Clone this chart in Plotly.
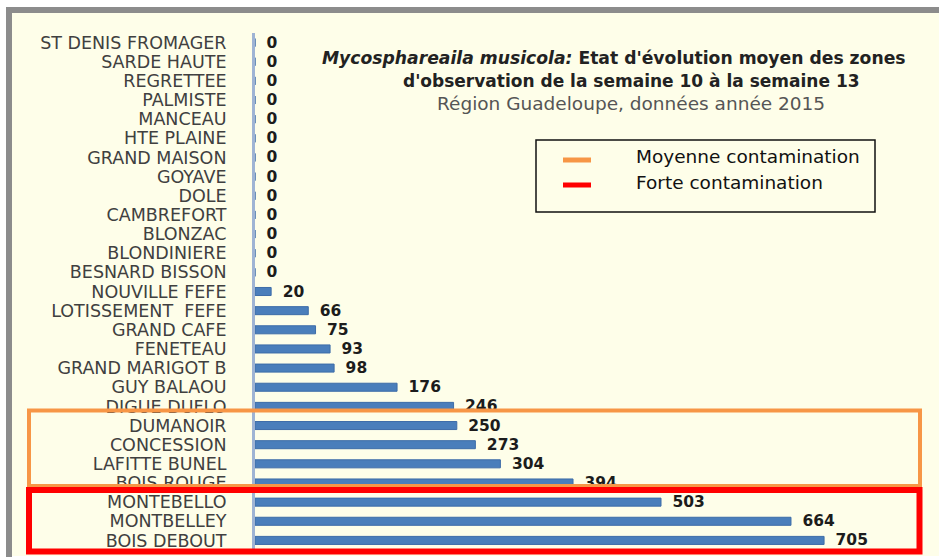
import plotly.graph_objects as go

# ---- data ----
stations = [
    "ST DENIS FROMAGER", "SARDE HAUTE", "REGRETTEE", "PALMISTE", "MANCEAU",
    "HTE PLAINE", "GRAND MAISON", "GOYAVE", "DOLE", "CAMBREFORT", "BLONZAC",
    "BLONDINIERE", "BESNARD BISSON", "NOUVILLE FEFE", "LOTISSEMENT  FEFE",
    "GRAND CAFE", "FENETEAU", "GRAND MARIGOT B", "GUY BALAOU", "DIGUE DUFLO",
    "DUMANOIR", "CONCESSION", "LAFITTE BUNEL", "BOIS ROUGE", "MONTEBELLO",
    "MONTBELLEY", "BOIS DEBOUT",
]
values = [0, 0, 0, 0, 0, 0, 0, 0, 0, 0, 0, 0, 0, 20, 66, 75, 93, 98, 176,
          246, 250, 273, 304, 394, 503, 664, 705]

title_line1_italic = "Mycosphareaila musicola:"
title_line1_rest = " Etat d'évolution moyen des zones"
title_line2 = "d'observation de la semaine 10 à la semaine 13"
title_line3 = "Région Guadeloupe, données année 2015"
legend_labels = ["Moyenne contamination", "Forte contamination"]
legend_colors = ["#f79646", "#ff0000"]

# ---- layout constants ----
W, H = 939, 560
ML, MR, MT, MB = 255, 10, 33, 10
PW, PH = W - ML - MR, H - MT - MB
CREAM = "#fefee9"
FONT = "'DejaVu Sans', sans-serif"


def px(x):
    return (x - ML) / PW


def py(y):
    return (H - MB - y) / PH


fig = go.Figure()
fig.add_trace(go.Bar(
    x=values, y=stations, orientation="h", width=0.42,
    marker=dict(color="#4a7ebb", line=dict(color="#3d6ca8", width=1)),
    text=["\u00a0\u2009" + str(v) for v in values], textposition="outside",
    constraintext="none",
    textfont=dict(family=FONT, size=15.5, color="#1c1c1c", weight="bold"),
    cliponaxis=False, showlegend=False,
))

shapes = []
# white outer frame and grey edges
shapes.append(dict(type="rect", xref="paper", yref="paper", x0=px(0), x1=px(W), y0=py(H), y1=py(556),
                   fillcolor="white", line=dict(width=0), layer="below"))
shapes.append(dict(type="rect", xref="paper", yref="paper", x0=px(0), x1=px(W), y0=py(7), y1=py(0),
                   fillcolor="white", line=dict(width=0), layer="below"))
shapes.append(dict(type="rect", xref="paper", yref="paper", x0=px(0), x1=px(6), y0=py(H), y1=py(0),
                   fillcolor="white", line=dict(width=0), layer="below"))
shapes.append(dict(type="rect", xref="paper", yref="paper", x0=px(6), x1=px(W), y0=py(13), y1=py(7),
                   fillcolor="#8c8c8c", line=dict(width=0), layer="below"))
shapes.append(dict(type="rect", xref="paper", yref="paper", x0=px(6), x1=px(12), y0=py(557), y1=py(7),
                   fillcolor="#8c8c8c", line=dict(width=0), layer="below"))

# highlight boxes
shapes.append(dict(type="rect", xref="paper", yref="paper", x0=px(29), x1=px(920), y0=py(486), y1=py(410.5),
                   line=dict(color=legend_colors[0], width=4), fillcolor="rgba(0,0,0,0)", layer="above"))
shapes.append(dict(type="rect", xref="paper", yref="paper", x0=px(29), x1=px(919.5), y0=py(551.5), y1=py(490),
                   line=dict(color=legend_colors[1], width=6), fillcolor="rgba(0,0,0,0)", layer="above"))

# legend box
shapes.append(dict(type="rect", xref="paper", yref="paper", x0=px(536), x1=px(875), y0=py(212), y1=py(140),
                   line=dict(color="#111111", width=1.5), fillcolor=CREAM, layer="above"))
legend_y = [160, 185]
for lab, col, ly in zip(legend_labels, legend_colors, legend_y):
    shapes.append(dict(type="line", xref="paper", yref="paper", x0=px(563), x1=px(591), y0=py(ly), y1=py(ly),
                       line=dict(color=col, width=5), layer="above"))

annotations = []
for lab, ly in zip(legend_labels, [156, 182]):
    annotations.append(dict(text=lab, xref="paper", yref="paper", x=px(634), y=py(ly), xanchor="left",
                            yanchor="middle", showarrow=False,
                            font=dict(family=FONT, size=18.5, color="#111111")))

annotations.append(dict(text=f"<b><i>{title_line1_italic}</i>{title_line1_rest}</b>", xref="paper", yref="paper",
                        x=px(614), y=py(58), xanchor="center", yanchor="middle", showarrow=False,
                        font=dict(family=FONT, size=17.2, color="#222222")))
annotations.append(dict(text=f"<b>{title_line2}</b>", xref="paper", yref="paper",
                        x=px(631), y=py(81), xanchor="center", yanchor="middle", showarrow=False,
                        font=dict(family=FONT, size=17, color="#222222")))
annotations.append(dict(text=title_line3, xref="paper", yref="paper",
                        x=px(631), y=py(104), xanchor="center", yanchor="middle", showarrow=False,
                        font=dict(family=FONT, size=18.5, color="#555555")))

fig.update_layout(
    width=W, height=H,
    margin=dict(l=ML, r=MR, t=MT, b=MB, pad=0),
    paper_bgcolor=CREAM, plot_bgcolor=CREAM,
    shapes=shapes, annotations=annotations,
    font=dict(family=FONT),
    xaxis=dict(range=[0, 835], visible=False, showgrid=False, zeroline=False, fixedrange=True),
    yaxis=dict(autorange="reversed", showgrid=False, zeroline=False,
               showline=True, linecolor="#9fb4d4", linewidth=3,
               ticks="", ticklabelstandoff=22,
               tickmode="array", tickvals=stations, ticktext=stations,
               tickfont=dict(family=FONT, size=17.5, color="#404040")),
    bargap=0.55,
)

fig.write_html(
    "out.html",
    config={"displayModeBar": False},
    post_script="document.body.style.margin='0px';document.body.style.overflow='hidden';",
)
